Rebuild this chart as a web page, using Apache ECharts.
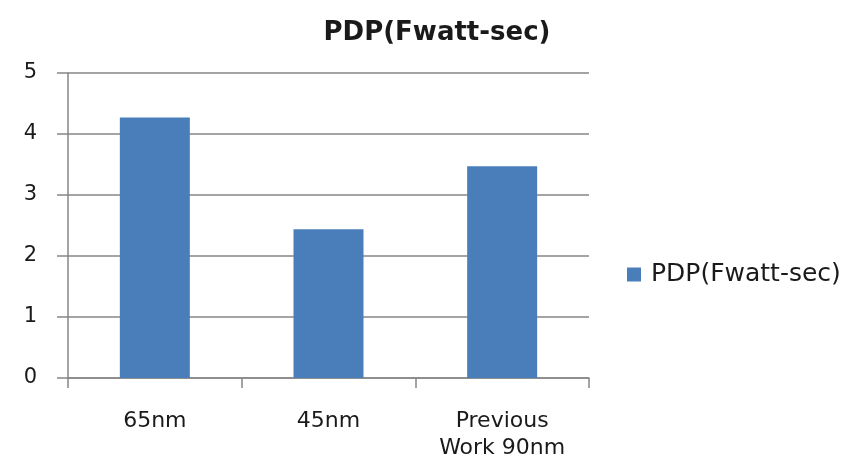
<!DOCTYPE html>
<html>
<head>
<meta charset="utf-8">
<script src="https://cdn.jsdelivr.net/npm/echarts@6/dist/echarts.min.js"></script>
<style>
  html, body { margin: 0; padding: 0; background: #fff; }
  #chart { width: 851px; height: 468px; }
</style>
</head>
<body>
<div id="chart"></div>
<script>
const categories = ['65nm', '45nm', 'Previous\nWork 90nm'];
const pdpValues = [4.27, 2.44, 3.47];
const seriesName = 'PDP(Fwatt-sec)';

const chart = echarts.init(document.getElementById('chart'));

const option = {
  animation: false,
  backgroundColor: '#ffffff',
  textStyle: { fontFamily: 'DejaVu Sans' },
  title: {
    text: seriesName,
    left: 432,
    top: 15,
    textAlign: 'center',
    textStyle: { fontSize: 26, fontWeight: 'bold', color: '#1a1a1a', fontFamily: 'DejaVu Sans' }
  },
  legend: {
    data: [seriesName],
    left: 622,
    top: 257,
    itemWidth: 14,
    itemHeight: 14,
    icon: 'rect',
    textStyle: { fontSize: 25, color: '#1a1a1a', fontFamily: 'DejaVu Sans', padding: [0, 0, 0, 5] }
  },
  grid: {
    left: 68,
    right: 262,
    top: 73,
    bottom: 90
  },
  xAxis: {
    type: 'category',
    data: categories,
    axisLine: { lineStyle: { color: '#868686', width: 1.5 } },
    axisTick: { show: true, interval: 0, length: 10, lineStyle: { color: '#868686', width: 1.5 } },
    axisLabel: { interval: 0, fontSize: 22, color: '#1a1a1a', margin: 30, lineHeight: 27 }
  },
  yAxis: {
    type: 'value',
    min: 0,
    max: 5,
    interval: 1,
    axisLine: { show: true, lineStyle: { color: '#868686', width: 1.5 } },
    axisTick: { show: true, length: 11, lineStyle: { color: '#868686', width: 1.5 } },
    axisLabel: { fontSize: 21, color: '#1a1a1a', margin: 31 },
    splitLine: { lineStyle: { color: '#868686', width: 1.5 } }
  },
  series: [{
    name: seriesName,
    type: 'bar',
    data: pdpValues,
    barWidth: 70,
    itemStyle: { color: '#4a7ebb' }
  }]
};

chart.setOption(option);
</script>
</body>
</html>
